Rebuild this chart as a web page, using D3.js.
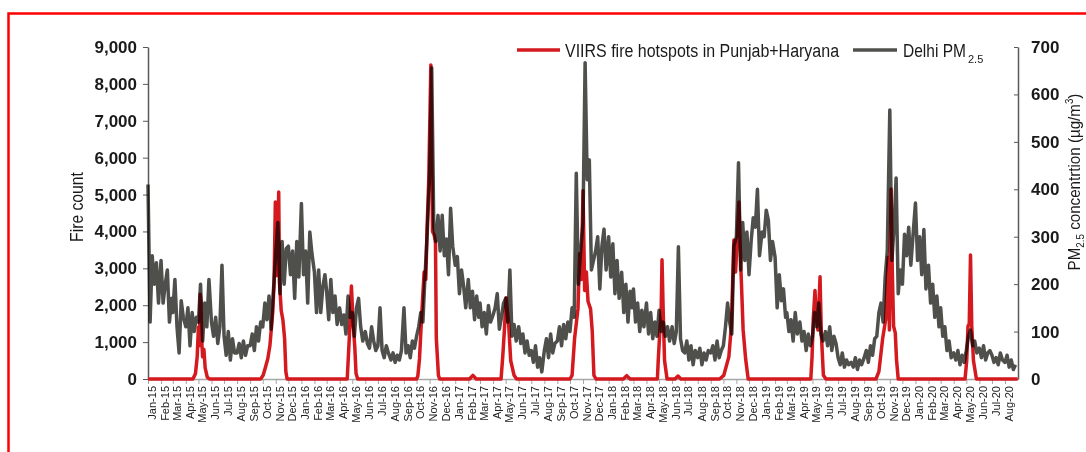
<!DOCTYPE html>
<html>
<head>
<meta charset="utf-8">
<script src="https://cdn.jsdelivr.net/npm/d3@7"></script>
<style>
  body { margin: 0; background: #fff; }
  svg { display: block; }
</style>
</head>
<body>
<svg id="chart" width="1086" height="452"></svg>
<script>
// Delhi PM2.5, six readings per month (days 1, 6, 11, 16, 21, 26)
const pm2015 = [410,120,260,200,245,160, 250,160,200,230,120,170, 140,210,110,55,165,130, 110,150,70,140,100,130,
  120,200,80,160,110,210, 120,90,130,75,110,240, 90,50,100,40,85,55, 55,75,45,80,50,70,
  70,95,60,110,80,120, 110,160,125,175,105,180, 265,330,180,290,200,275, 280,220,270,170,290,215];
const pm2016 = [370,220,270,160,310,265, 225,140,230,140,195,220, 185,125,210,140,175,115, 150,115,135,95,175,130,
  140,90,150,170,110,80, 100,75,65,110,80,60, 70,150,60,45,70,55, 40,55,35,50,40,60,
  150,55,70,45,80,65, 90,110,140,120,215,300, 430,656,320,290,345,270, 345,260,295,220,360,280];
const pm2017 = [240,258,180,230,195,150, 210,150,185,125,175,130, 160,110,140,95,155,120, 135,150,180,105,130,160,
  170,120,230,90,115,80, 110,75,95,55,80,50, 60,35,70,25,45,15, 60,85,45,95,55,75,
  80,110,70,115,85,120, 100,150,130,434,200,265, 330,667,420,462,230,250, 270,300,190,280,316,230];
const pm2018 = [300,215,285,180,250,170, 225,140,200,120,185,150, 190,120,160,100,145,110, 160,95,140,85,120,90,
  145,100,120,90,110,80, 110,75,100,279,85,60, 55,80,40,70,30,60, 45,65,30,55,40,60,
  55,70,40,80,45,60, 70,110,160,120,95,280, 300,456,230,330,250,310, 220,290,340,320,400,260];
const pm2019 = [310,300,356,335,250,290, 257,150,220,165,190,130, 140,100,125,80,140,95, 120,80,100,60,95,70,
  90,140,110,160,95,80, 100,70,110,60,90,75, 45,30,55,25,40,30, 35,25,45,20,40,30,
  45,60,35,70,50,85, 90,140,160,120,215,270, 567,250,320,424,180,230, 200,305,260,320,240,300];
const pm2020 = [371,250,300,220,315,190, 240,160,200,130,175,110, 150,90,110,60,80,45, 55,40,60,30,50,35,
  60,90,103,70,80,55, 65,45,70,40,55,60, 50,35,45,30,55,40, 35,50,25,40,20,30];
const pmYears = [[2015, pm2015], [2016, pm2016], [2017, pm2017], [2018, pm2018], [2019, pm2019], [2020, pm2020]];

// VIIRS fire hotspots, Punjab + Haryana
const fireDates = [
  "2015-01-01","2015-04-18","2015-04-24","2015-04-28","2015-05-01","2015-05-03","2015-05-05","2015-05-07","2015-05-09","2015-05-11","2015-05-14","2015-05-17","2015-05-22","2015-05-27",
  "2015-09-26","2015-10-02","2015-10-07","2015-10-13","2015-10-18","2015-10-21","2015-10-25","2015-10-28","2015-10-31","2015-11-02","2015-11-05","2015-11-08","2015-11-10","2015-11-14","2015-11-18","2015-11-22","2015-11-25","2015-11-28",
  "2016-04-19","2016-04-24","2016-04-29","2016-05-03","2016-05-07","2016-05-10","2016-05-14",
  "2016-10-01","2016-10-04","2016-10-08","2016-10-14","2016-10-19","2016-10-23","2016-10-26","2016-10-30","2016-11-04","2016-11-08","2016-11-12","2016-11-15","2016-11-17","2016-11-22","2016-11-25",
  "2017-02-04","2017-02-12","2017-02-20",
  "2017-04-20","2017-04-24","2017-04-28","2017-05-02","2017-05-08","2017-05-13","2017-05-21","2017-05-27",
  "2017-10-01","2017-10-06","2017-10-12","2017-10-16","2017-10-20","2017-10-24","2017-10-28","2017-11-01","2017-11-05","2017-11-09","2017-11-13","2017-11-19","2017-11-23","2017-11-27","2017-12-02",
  "2018-02-05","2018-02-13","2018-02-21",
  "2018-04-27","2018-04-29","2018-05-03","2018-05-06","2018-05-08","2018-05-11","2018-05-14","2018-05-20",
  "2018-06-08","2018-06-15","2018-06-22",
  "2018-09-22","2018-10-02","2018-10-14","2018-10-20","2018-10-26","2018-10-30","2018-11-07","2018-11-12","2018-11-17","2018-11-23","2018-11-29",
  "2019-04-27","2019-04-30","2019-05-03","2019-05-07","2019-05-10","2019-05-14","2019-05-19","2019-05-22","2019-05-27","2019-06-02",
  "2019-09-29","2019-10-06","2019-10-15","2019-10-22","2019-10-28","2019-10-31","2019-11-04","2019-11-07","2019-11-10","2019-11-14","2019-11-17","2019-11-21",
  "2020-04-28","2020-05-02","2020-05-05","2020-05-08","2020-05-11","2020-05-14","2020-05-18","2020-05-25","2020-08-31"
];
const fireCounts = [
  0,0,150,600,1400,900,2300,2100,1000,600,800,300,50,0,
  0,100,300,550,900,1300,1850,2600,4800,2800,3500,5070,2600,1850,1600,1100,200,0,
  0,1120,2520,1500,870,150,0,
  0,80,550,1900,2900,2700,4100,5400,8510,4000,3900,3700,1100,100,0,
  0,100,0,
  0,600,1330,2200,1500,500,100,0,
  0,100,1100,1500,1900,3400,2700,5100,2400,2900,2100,1900,1300,100,0,
  0,90,0,
  0,500,1330,1870,3230,1760,500,0,
  0,80,0,
  0,100,600,1430,3770,2900,4800,2900,1330,540,0,
  0,600,1650,2400,1650,1330,2770,1250,100,0,
  0,200,1100,1600,3300,1330,5150,2900,1430,1250,520,0,
  0,500,1430,1500,3360,1430,500,0,0
];

const fireTicks = [0,1000,2000,3000,4000,5000,6000,7000,8000,9000];
const pmTicks = [0,100,200,300,400,500,600,700];
const legendLabels = ["VIIRS fire hotspots in Punjab+Haryana", "Delhi PM"];

const svg = d3.select('#chart');
const parse = d3.timeParse('%Y-%m-%d');

const x = d3.scaleTime().domain([new Date(2015, 0, 1), new Date(2020, 8, 1)]).range([148, 1018]);
const yFire = d3.scaleLinear().domain([0, 9000]).range([379, 47]);
const yPm = d3.scaleLinear().domain([0, 700]).range([379, 47]);

const pmData = [];
pmYears.forEach(([yr, vals]) => {
    vals.forEach((v, i) => pmData.push({ date: new Date(yr, Math.floor(i / 6), 1 + 5 * (i % 6)), value: v }));
});
const fireData = fireDates.map((d, i) => ({ date: parse(d), value: fireCounts[i] }));

// red frame round the figure
svg.append('rect')
    .attr('x', 8.5).attr('y', 13.5).attr('width', 1200).attr('height', 600)
    .attr('fill', 'none').attr('stroke', '#ff0000').attr('stroke-width', 2.5);

// x axis with month ticks
const months = d3.timeMonth.range(new Date(2015, 0, 1), new Date(2020, 8, 1));
const xAxis = svg.append('g')
    .attr('transform', 'translate(0,379)')
    .call(d3.axisBottom(x).tickValues(months).tickSize(5).tickSizeOuter(0).tickFormat(d3.timeFormat('%b-%y')));
xAxis.select('.domain').attr('stroke', '#a6a6a6').attr('stroke-width', 1.5);
xAxis.selectAll('.tick line').attr('stroke', '#a6a6a6');
xAxis.selectAll('.tick text')
    .attr('transform', 'rotate(-90)')
    .attr('x', -7).attr('y', 0).attr('dy', '0.66em')
    .attr('text-anchor', 'end')
    .attr('font-family', 'Liberation Sans, Arial, sans-serif')
    .attr('font-size', 11).attr('fill', '#222');

// left axis
const yAxisL = svg.append('g')
    .attr('transform', 'translate(148,0)')
    .call(d3.axisLeft(yFire).tickValues(fireTicks).tickFormat(d3.format(',')).tickSize(5).tickSizeOuter(0).tickPadding(6));
yAxisL.select('.domain').attr('stroke', '#595959').attr('stroke-width', 1.5);
yAxisL.selectAll('.tick line').attr('stroke', '#595959');
yAxisL.selectAll('.tick text')
    .attr('font-family', 'Liberation Sans, Arial, sans-serif')
    .attr('font-size', 17).attr('font-weight', 'bold').attr('fill', '#1a1a1a');

// right axis
const yAxisR = svg.append('g')
    .attr('transform', 'translate(1018,0)')
    .call(d3.axisRight(yPm).tickValues(pmTicks).tickSize(-4).tickSizeOuter(0).tickPadding(13));
yAxisR.select('.domain').attr('stroke', '#595959').attr('stroke-width', 1.5);
yAxisR.selectAll('.tick line').attr('stroke', '#595959');
yAxisR.selectAll('.tick text')
    .attr('font-family', 'Liberation Sans, Arial, sans-serif')
    .attr('font-size', 17).attr('font-weight', 'bold').attr('fill', '#1a1a1a');

// series
const firePath = d3.line().x(d => x(d.date)).y(d => yFire(d.value));
const pmPath = d3.line().x(d => x(d.date)).y(d => yPm(d.value));

svg.append('path')
    .datum(fireData)
    .attr('d', firePath)
    .attr('fill', 'none').attr('stroke', '#d41a1f').attr('stroke-width', 3.5)
    .attr('stroke-linejoin', 'round');

svg.append('path')
    .datum(pmData)
    .attr('d', pmPath)
    .attr('fill', 'none').attr('stroke', '#4f4f4b').attr('stroke-width', 3.5)
    .attr('stroke-linejoin', 'round')
    .style('mix-blend-mode', 'multiply');

// squeezes a text to a given length (the original uses a narrow face)
function squeeze(sel, len, rotate) {
    const w = sel.node().getBBox().width;
    const s = len / w;
    const tx = +sel.attr('data-x'), ty = +sel.attr('data-y');
    sel.attr('transform', 'translate(' + tx + ',' + ty + ')' + (rotate ? ' rotate(-90)' : '') + ' scale(' + s + ',1)');
}

const font = 'Liberation Sans, Arial, sans-serif';

// axis titles
const tL = svg.append('text')
    .attr('data-x', 83).attr('data-y', 207)
    .attr('text-anchor', 'middle')
    .attr('font-family', font).attr('font-size', 18).attr('fill', '#1a1a1a')
    .text('Fire count');
squeeze(tL, 70, true);

const tR = svg.append('text')
    .attr('data-x', 1080).attr('data-y', 182)
    .attr('text-anchor', 'middle')
    .attr('font-family', font).attr('font-size', 17).attr('fill', '#1a1a1a');
tR.append('tspan').text('PM');
tR.append('tspan').attr('font-size', 11).attr('dy', 4).text('2.5');
tR.append('tspan').attr('dy', -4).text(' concentrtion (µg/m');
tR.append('tspan').attr('font-size', 11).attr('dy', -7).text('3');
tR.append('tspan').attr('dy', 7).text(')');
squeeze(tR, 177, true);

// legend
const legend = svg.append('g');
legend.append('line').attr('x1', 517).attr('x2', 560).attr('y1', 50).attr('y2', 50)
    .attr('stroke', '#d41a1f').attr('stroke-width', 3.5);
const lg1 = legend.append('text')
    .attr('data-x', 565).attr('data-y', 57)
    .attr('font-family', font).attr('font-size', 18).attr('fill', '#1a1a1a')
    .text(legendLabels[0]);
squeeze(lg1, 275, false);

legend.append('line').attr('x1', 853).attr('x2', 897).attr('y1', 50).attr('y2', 50)
    .attr('stroke', '#4f4f4b').attr('stroke-width', 3.5);
const lg2 = legend.append('text')
    .attr('data-x', 903).attr('data-y', 57)
    .attr('font-family', font).attr('font-size', 18).attr('fill', '#1a1a1a')
    .text(legendLabels[1]);
squeeze(lg2, 63, false);
legend.append('text')
    .attr('x', 968).attr('y', 63)
    .attr('font-family', font).attr('font-size', 11).attr('fill', '#1a1a1a')
    .text('2.5');
</script>
</body>
</html>
